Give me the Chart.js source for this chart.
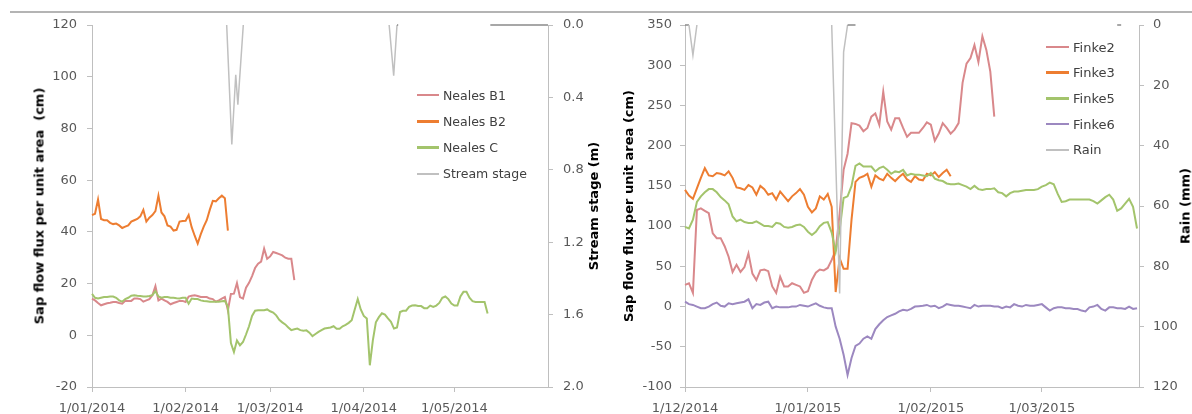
<!DOCTYPE html>
<html><head><meta charset="utf-8">
<script src="https://cdn.jsdelivr.net/npm/chart.js@4.4.1/dist/chart.umd.min.js"></script>
<style>
body{margin:0;background:#fff;}
#wrap{position:relative;width:1192px;height:414px;overflow:hidden;background:#fff;font-family:'DejaVu Sans',sans-serif;}
canvas{position:absolute;top:0;}
#rule{position:absolute;left:10px;top:11px;width:1182px;height:2px;background:#b4b4b4;z-index:10;}
.ttl{position:absolute;font-weight:bold;font-size:13px;color:#000;white-space:pre;transform:translate(-50%,-50%) rotate(-90deg);line-height:1;}
.leg{position:absolute;display:flex;align-items:center;height:20px;color:#404040;white-space:pre;}
.leg i{display:inline-block;height:2.5px;margin-right:4px;}
</style></head>
<body><div id="wrap">
<canvas id="c1" width="600" height="414" style="left:0"></canvas>
<canvas id="c2" width="592" height="414" style="left:600px"></canvas>
<div id="rule"></div>
<div class="ttl" style="left:39px;top:206px">Sap flow flux per unit area  (cm)</div>
<div class="ttl" style="left:593px;top:206px">Stream stage (m)</div>
<div class="ttl" style="left:628px;top:206px">Sap flow flux per unit area (cm)</div>
<div class="ttl" style="left:1185px;top:206px">Rain (mm)</div>
<div id="legends"></div>
</div>
<script>
// ---------- Left panel: Neales (daily values from 1 Jan 2014) ----------
const nealesB1 = [14.2,13.5,12.5,11.6,12,12.4,12.6,12.9,12.9,12.5,
  12.2,13.3,13.3,13.3,14.2,14.2,14,13,13.5,14,
  15.5,19,13.5,14.2,13.5,12.9,12,12.5,12.9,13.3,
  13.3,12.9,15,15.3,15.5,15.2,14.8,14.8,14.8,14.2,
  14,13,13.5,14.2,14.8,9.7,16,16.1,20.2,14.8,
  14.2,18.4,20.3,22.9,26,27.7,28.5,33.5,29.6,30.5,
  32.2,31.8,31.4,30.9,30,29.6,29.6,21.3];
const nealesB2 = [46.5,47,52.5,45,44.5,44.5,43.5,43,43.2,42.5,
  41.5,42,42.5,44,44.5,45,46,48.5,44,45.5,
  46.5,48,54,47.5,46,42.5,42,40.5,40.8,44,
  44.2,44.3,46.5,41.8,38.5,35.5,39,42,44.5,48.5,
  52,51.8,53,54,53,40.5];
const nealesC = [16,14.5,14.2,14.5,14.8,14.8,15,15,14.5,13.5,
  13,14,14.5,15.3,15.5,15.3,15.2,15,15,15.2,
  15.5,17.1,15,14.5,14.8,14.8,14.5,14.5,14.3,14.2,
  14.5,14.5,12.2,14.2,14,14,13.5,13.3,13.2,13,
  13,13,13,13.2,13.3,11,-3,-6.5,-2,-3.9,
  -2.6,0.3,3.5,7.5,9.5,9.7,9.7,9.7,10,9.3,
  8.8,7.7,6,5,4.2,3,2,2.3,2.6,2,
  1.8,1.9,1,-0.3,0.5,1.3,2,2.6,2.8,3,
  3.5,2.5,2.5,3.5,4,4.8,5.8,10,14,10,
  7.5,6.5,-11.6,-2,5,7,8.5,8,6.5,5.2,
  2.6,3,9,9.5,9.5,11,11.5,11.6,11.3,11.3,
  10.5,10.5,11.5,11,11.5,12.5,14.5,15,14,12.3,
  11.5,11.5,15,16.8,16.8,14.5,13.2,12.9,12.9,12.9,
  12.9,8.4];
// Stream stage (m): day offset from 1 Jan 2014, null = no record
const stageDays   = [44.6,46.3,47.6,48.3,50.1,50.5, 98.4,99.9,101,101.4,101.8, 131.9,151];
const stageValues = [0,0.66,0.275,0.44,0,null,     0,0.28,0,0,null,          0,0];
const leftTickDays   = [0,31,59,90,120];
const leftTickLabels = ['1/01/2014','1/02/2014','1/03/2014','1/04/2014','1/05/2014'];

// ---------- Right panel: Finke (daily values from 1 Dec 2014) ----------
const finke2 = [27,29,17,120,122,119,116,91,85,85,
  75,62,43,52,43,49,66,41,33,45,
  46,44,25,17,37,25,25,29,27,25,
  17,19,33,42,46,45,48,58,70,116,
  170,190,228,227,225,218,222,236,240,226,
  267,230,220,234,234,222,211,216,216,216,
  222,229,226,206,215,228,222,215,220,228,
  278,302,309,325,304,336,319,292,236];
const finke3 = [145,138,134,147,160,172,163,162,166,165,
  163,168,160,148,147,145,151,148,139,150,
  146,139,141,133,143,137,131,137,141,146,
  139,124,117,122,137,133,140,124,18,60,
  47,47,108,155,160,162,165,149,163,159,
  157,165,160,156,161,165,158,155,162,158,
  157,165,163,167,161,166,170,162];
const finke5 = [99,97,108,130,137,142,146,146,142,136,
  132,127,112,106,108,105,104,104,106,103,
  100,100,99,104,103,99,98,99,101,102,
  99,93,89,93,100,104,105,92,68,95,
  135,137,150,175,178,174,174,174,168,172,
  174,170,165,168,167,170,163,165,164,164,
  163,162,166,159,157,156,153,152,152,153,
  151,149,146,150,146,145,146,146,147,142,
  141,137,141,143,143,144,145,145,145,146,
  149,151,154,152,140,130,131,133,133,133,
  133,133,133,131,128,132,136,139,133,119,
  122,128,134,124,97];
const finke6 = [6,3,2,0,-2,-2,0,3,5,1,
  0,4,3,4,5,6,9,-2,3,2,
  5,6,-2,0,-1,-1,-1,0,0,2,
  1,0,2,4,1,-1,-2,-2,-25,-40,
  -60,-85,-64,-49,-46,-40,-37,-40,-28,-22,
  -17,-13,-11,-9,-6,-4,-5,-3,0,0.5,
  1,2,0,1,-2,0,3,2,1,1,
  0,-1,-2,2,0,1,1,1,0,0,
  -2,0,-1,3,1,0,2,1,1,2,
  3,-1,-5,-2,-1,-1,-2,-2,-3,-3,
  -5,-6,-1,0,2,-3,-5,-1,-1,-2,
  -2,-3,0,-3,-2];
// Rain (mm): day offset from 1 Dec 2014, null = no record
const rainDays   = [0,1,2,3,3.5, 37,39,40,41,43,43.5, 109,110];
const rainValues = [0,0,10,0,null, 0,89,9,0,0,null, 0,0];
const rightTickDays   = [0,31,62,90];
const rightTickLabels = ['1/12/2014','1/01/2015','1/02/2015','1/03/2015'];

const leftLegend  = ['Neales B1','Neales B2','Neales C','Stream stage'];
const rightLegend = ['Finke2','Finke3','Finke5','Finke6','Rain'];

// ---------- styling ----------
const RED='#d9888b', ORANGE='#ed7d31', GREEN='#a3c46c', PURPLE='#9c88c0', GREY='#c0c0c0', DARKGREY='#8a8a8a';
Chart.defaults.font.family = "'DejaVu Sans', sans-serif";

// thin separator rule across the top of the figure
const topRule = {id:'topRule', afterDraw(chart, args, opts){
  const c = chart.ctx; c.save(); c.strokeStyle='#b4b4b4'; c.lineWidth=2;
  c.beginPath(); c.moveTo(opts.from, 12); c.lineTo(chart.width, 12); c.stroke(); c.restore();
}};

function series(label, arr, color, axis, order, w){
  return {label, data: arr.map((v,i)=>({x:i, y:v})), borderColor:color, backgroundColor:color,
    borderWidth:w||2, pointRadius:0, tension:0, fill:false, yAxisID:axis, order, spanGaps:false, clip:false};
}
function pairs(label, xs, ys, color, axis, order, w){
  return {label, data: xs.map((x,i)=>({x, y:ys[i]})), borderColor:color, backgroundColor:color,
    borderWidth:w||1.5, pointRadius:0, tension:0, fill:false, yAxisID:axis, order, spanGaps:false, clip:false,
    segment:{borderColor:c=>(c.p0.parsed.y===0 && c.p1.parsed.y===0) ? DARKGREY : color}};
}
function axisX(min,max,days,labels){
  return {type:'linear',position:'bottom',min,max,
    afterBuildTicks:s=>{s.ticks=days.map(v=>({value:v}));},
    afterFit:s=>{s.height=27;},
    ticks:{autoSkip:false,maxRotation:0,minRotation:0,padding:9,color:'#595959',font:{size:13},
      callback:(v,i)=>labels[i]},
    grid:{drawOnChartArea:false,drawTicks:true,tickLength:5,color:'#bfbfbf'},
    border:{color:'#bfbfbf',width:1}};
}
function axisY(pos,min,max,step,width,pad,rev,fmt){
  return {type:'linear',position:pos,min,max,reverse:!!rev,
    afterFit:s=>{s.width=width;},
    ticks:{stepSize:step,padding:pad,color:'#595959',font:{size:13},callback:fmt},
    grid:{drawOnChartArea:false,drawTicks:true,tickLength:5,color:'#bfbfbf'},
    border:{color:'#bfbfbf',width:1}};
}
function opts(ruleFrom, scales){
  return {responsive:false, animation:false, events:[],
    plugins:{legend:{display:false}, tooltip:{enabled:false}, topRule:{from:ruleFrom}},
    layout:{padding:{top:25,left:0,right:0,bottom:0}}, scales};
}

new Chart(document.getElementById('c1'), {
  type:'line',
  plugins:[topRule],
  data:{datasets:[
    pairs(leftLegend[3], stageDays, stageValues, GREY, 'y1', 0),
    series(leftLegend[2], nealesC, GREEN, 'y', 1),
    series(leftLegend[1], nealesB2, ORANGE, 'y', 2),
    series(leftLegend[0], nealesB1, RED, 'y', 3)
  ]},
  options:opts(10, {
    x: axisX(0,151,leftTickDays,leftTickLabels),
    y: axisY('left',-20,120,20,92,10,false,v=>v),
    y1: axisY('right',0,2,0.4,52,10,true,v=>Number(v).toFixed(1))
  })
});

new Chart(document.getElementById('c2'), {
  type:'line',
  plugins:[topRule],
  data:{datasets:[
    pairs(rightLegend[4], rainDays, rainValues, GREY, 'y1', 0),
    series(rightLegend[3], finke6, PURPLE, 'y', 1),
    series(rightLegend[2], finke5, GREEN, 'y', 2),
    series(rightLegend[1], finke3, ORANGE, 'y', 3),
    series(rightLegend[0], finke2, RED, 'y', 4)
  ]},
  options:opts(0, {
    x: axisX(0,114.5,rightTickDays,rightTickLabels),
    y: axisY('left',-100,350,50,85,8,false,v=>v),
    y1: axisY('right',0,120,20,53,9,true,v=>v)
  })
});

// ---------- HTML legends ----------
function legend(names, colors, x0, y0, dy, lineW, size){
  const host=document.getElementById('legends');
  names.forEach((n,i)=>{
    const d=document.createElement('div');
    d.className='leg';
    d.style.left=x0+'px'; d.style.top=(y0+i*dy-10)+'px'; d.style.fontSize=size+'px';
    const sw=document.createElement('i');
    sw.style.width=lineW+'px'; sw.style.background=colors[i];
    d.appendChild(sw); d.appendChild(document.createTextNode(n));
    host.appendChild(d);
  });
}
legend(leftLegend,[RED,ORANGE,GREEN,GREY],417,95,26.3,22,12.5);
legend(rightLegend,[RED,ORANGE,GREEN,PURPLE,GREY],1046,47,25.7,23,13);
</script>
</body></html>
